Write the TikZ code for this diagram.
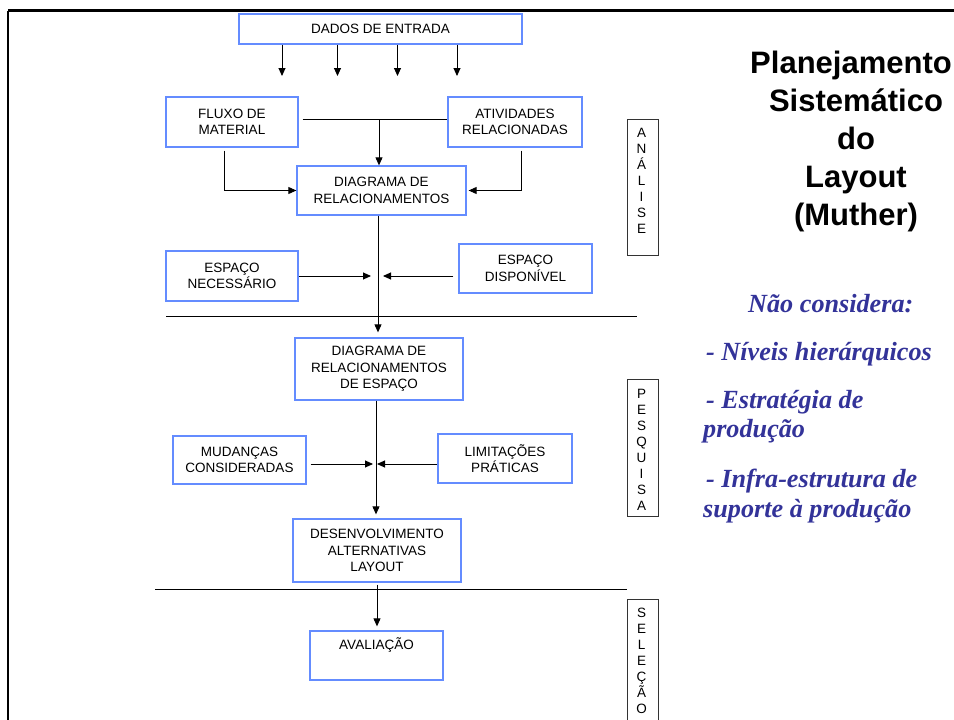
\documentclass[tikz,border=0pt]{standalone}
\usepackage{fontspec}
\setmainfont{Liberation Sans}
\newfontfamily\tnr{Liberation Serif}
\usetikzlibrary{arrows.meta}
\definecolor{boxblue}{RGB}{100,140,255}
\definecolor{txtblue}{RGB}{51,51,153}
\begin{document}
\begin{tikzpicture}[x=1pt,y=-1pt,
  box/.style={draw=boxblue, line width=1.3pt, fill=white, align=center, inner sep=2pt,
    font=\fontsize{13.5}{16.5}\selectfont},
  sidebox/.style={draw=black!80, line width=0.8pt, minimum width=31pt},
  sidetxt/.style={align=center, inner sep=0pt, font=\fontsize{13.5}{16}\selectfont},
  conn/.style={line width=0.9pt},
  arr/.style={conn, -{Triangle[length=8pt,width=7pt]}},
  sepline/.style={line width=0.9pt},
  titletxt/.style={anchor=base, inner sep=0pt, font=\bfseries\fontsize{31}{38}\selectfont},
  bluetxt/.style={anchor=base west, inner sep=0pt, text=txtblue,
    font=\tnr\bfseries\itshape\fontsize{26.2}{29}\selectfont}]
\useasboundingbox (0,0) rectangle (954,720);
\clip (0,0) rectangle (954,720);
% frame
\draw[line width=2.7pt] (8,10.5) -- (1000,10.5);
\draw[line width=2.7pt] (8,10.5) -- (8,800);

% boxes
\node[box, minimum width=283pt, minimum height=30pt] (dados) at (380.5,29) {DADOS DE ENTRADA};
\node[box, minimum width=132pt, minimum height=50pt] (fluxo) at (232,122) {FLUXO DE\\MATERIAL};
\node[box, minimum width=134pt, minimum height=50pt] (ativ) at (515,122) {ATIVIDADES\\RELACIONADAS};
\node[box, minimum width=169pt, minimum height=49pt] (diag) at (381.5,190.5) {DIAGRAMA DE\\RELACIONAMENTOS};
\node[box, minimum width=132pt, minimum height=50pt] (espnec) at (232,276) {ESPAÇO\\NECESSÁRIO};
\node[box, minimum width=133pt, minimum height=49pt] (espdisp) at (525.5,268.5) {ESPAÇO\\DISPONÍVEL};
\node[box, minimum width=168pt, minimum height=62pt] (diagesp) at (379,369) {DIAGRAMA DE\\RELACIONAMENTOS\\DE ESPAÇO};
\node[box, minimum width=133pt, minimum height=48pt] (mud) at (239.5,460) {MUDANÇAS\\CONSIDERADAS};
\node[box, minimum width=134pt, minimum height=49pt] (lim) at (505,458.5) {LIMITAÇÕES\\PRÁTICAS};
\node[box, minimum width=168pt, minimum height=63pt] (desenv) at (377,550.5) {DESENVOLVIMENTO\\ALTERNATIVAS\\LAYOUT};
\node[box, minimum width=133pt, minimum height=49pt,
  label={[anchor=north, yshift=-5pt, inner sep=2pt, font=\fontsize{13.5}{16.5}\selectfont]north:AVALIAÇÃO}] (aval) at (376.5,655.5) {};

% side labels
\node[sidebox, minimum height=136pt] (analise) at (642.5,187) {};
\node[sidetxt] (analiseT) at (641.5,181) {A\\N\\Á\\L\\I\\S\\E};
\node[sidebox, minimum height=137pt] (pesquisa) at (642.5,447.5) {};
\node[sidetxt] (pesquisaT) at (641.5,450) {P\\E\\S\\Q\\U\\I\\S\\A};
\node[sidebox, minimum height=160pt] (selecao) at (643,679) {};
\node[sidetxt] (selecaoT) at (641.5,660.5) {S\\E\\L\\E\\Ç\\Ã\\O};

% coordinates
\coordinate (j1) at (379,119);
\coordinate (c1) at (378,0);
\coordinate (m1) at (378,276);
\coordinate (c2) at (376,0);
\coordinate (m2) at (376,464);
\coordinate (c3) at (377,0);
\coordinate (d1) at (282,76);
\coordinate (d2) at (337.5,76);
\coordinate (d3) at (397.5,76);
\coordinate (d4) at (457,76);
\coordinate (s1a) at (166,316);
\coordinate (s1b) at (637,316);
\coordinate (s2a) at (155,589);
\coordinate (s2b) at (627,589);

% connectors
\foreach \d in {d1,d2,d3,d4} \draw[arr] (dados.south -| \d) -- (\d);
\draw[conn] ([xshift=4pt]fluxo.east |- j1) -- (ativ.west |- j1);
\draw[arr] (j1) -- (diag.north -| j1);
\draw[arr] ([xshift=-8pt,yshift=-3pt]fluxo.south) |- (diag.west);
\draw[arr] ([xshift=6pt,yshift=-3pt]ativ.south) |- ([xshift=2pt]diag.east);
\draw[arr, shorten >=5pt] (diag.south -| c1) -- (diagesp.north -| c1);
\draw[arr, shorten >=7pt] (espnec.east |- m1) -- (m1);
\draw[arr, shorten >=5pt] ([xshift=-5pt]espdisp.west |- m1) -- (m1);
\draw[arr, shorten >=4pt] (diagesp.south -| c2) -- (desenv.north -| c2);
\draw[arr, shorten >=3pt] ([xshift=4pt]mud.east |- m2) -- (m2);
\draw[arr, shorten >=1pt] (lim.west |- m2) -- (m2);
\draw[arr, shorten >=4pt] ([yshift=-2pt]desenv.south -| c3) -- (aval.north -| c3);

% separators
\draw[sepline] (s1a) -- (s1b);
\draw[sepline] (s2a) -- (s2b);

% title
\node[titletxt] (t1) at (851,73) {Planejamento};
\node[titletxt] (t2) at (856,111) {Sistemático};
\node[titletxt] (t3) at (856,149) {do};
\node[titletxt] (t4) at (856,187) {Layout};
\node[titletxt] (t5) at (856,225) {(Muther)};

% blue notes
\node[bluetxt] (n1) at (748,312) {Não considera:};
\node[bluetxt] (n2) at (706,360) {- Níveis hierárquicos};
\node[bluetxt] (n3) at (706,408) {- Estratégia de};
\node[bluetxt] (n4) at (703,437) {produção};
\node[bluetxt] (n5) at (706,487) {- Infra-estrutura de};
\node[bluetxt] (n6) at (703,517) {suporte à produção};
\end{tikzpicture}
\end{document}
